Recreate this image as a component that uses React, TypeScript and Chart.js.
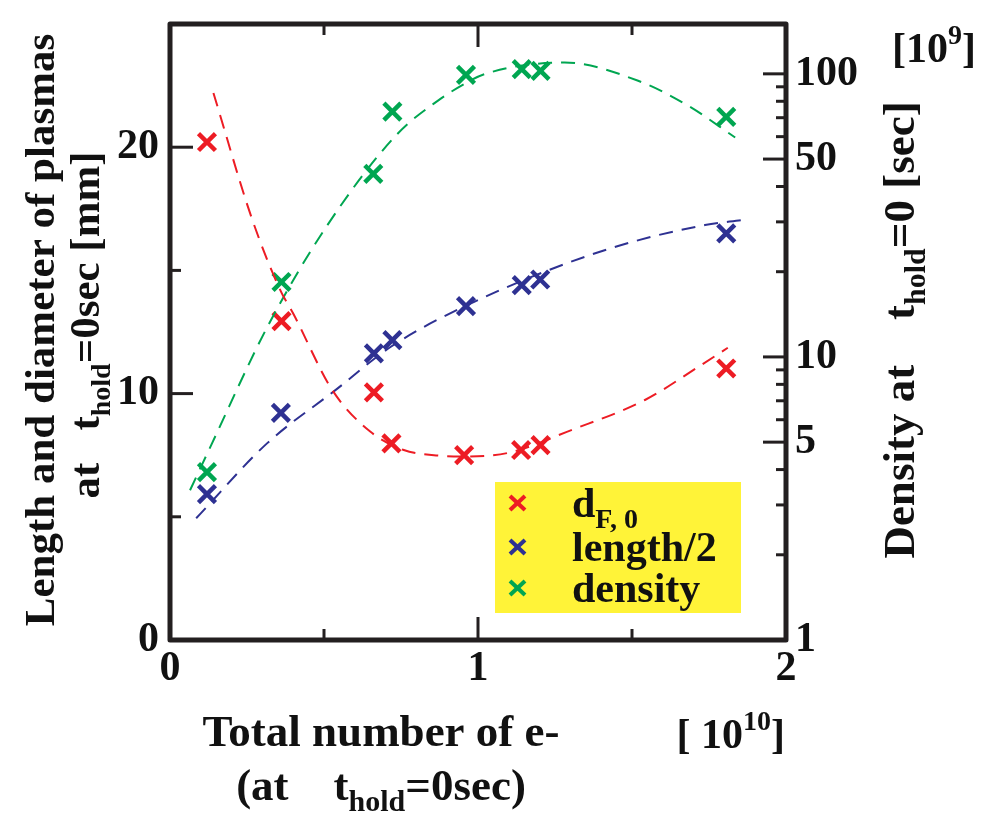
import React, { useEffect, useRef } from "react";
import { Chart, registerables } from "chart.js";
Chart.register(...registerables);

// ---- data (x in units of 1e10 electrons) ----
const redX = [0.12, 0.362, 0.662, 0.719, 0.955, 1.14, 1.203, 1.806];
const redY = [20.21, 12.94, 10.05, 7.98, 7.5, 7.71, 7.91, 11.02];
const blueX = [0.12, 0.36, 0.662, 0.722, 0.961, 1.142, 1.202, 1.806];
const blueY = [5.92, 9.22, 11.63, 12.17, 13.55, 14.4, 14.63, 16.5];
const greenX = [0.12, 0.362, 0.66, 0.722, 0.961, 1.142, 1.203, 1.806];
const greenY = [3.92, 18.4, 44.3, 73.5, 99.2, 103.9, 102.5, 70.5];

// dashed fit curves
const redFitX = [0.141, 0.266, 0.358, 0.4, 0.527, 0.651, 0.759, 0.857, 0.95, 1.1, 1.303, 1.542, 1.716, 1.811];
const redFitY = [22.2, 17.1, 14.2, 13.25, 10.14, 8.45, 7.71, 7.5, 7.45, 7.6, 8.52, 9.74, 11.09, 11.86];
const blueFitX = [0.085, 0.315, 0.537, 0.717, 0.977, 1.411, 1.737, 1.857];
const blueFitY = [4.94, 7.98, 10.14, 11.9, 13.66, 15.82, 16.84, 17.04];
const greenFitX = [0.065, 0.136, 0.315, 0.51, 0.738, 0.869, 0.955, 1.02, 1.281, 1.52, 1.683, 1.835];
const greenFitY = [3.38, 4.94, 12.7, 29.1, 61.3, 80.3, 92, 99.7, 109.6, 94.5, 77.1, 59.6];

// axes
const xTicks = [0, 1, 2];
const xMinor = [0.5, 1.5];
const yTicks = [0, 10, 20];
const yMinor = [5, 15];
const rightLabels = [1, 5, 10, 50, 100];
const rightLong = [5, 10, 50, 100];
const rightShort = [2, 3, 4, 6, 7, 8, 9, 20, 30, 40, 60, 70, 80, 90];

const RED = "#ED1C24";
const BLUE = "#2E3192";
const GREEN = "#00A651";
const INK = "#231F20";
const FONT = "'Liberation Serif', 'Times New Roman', serif";

const zip = (xs: number[], ys: number[]) => xs.map((x, i) => ({ x, y: ys[i] }));

type Part = { t: string; sub?: boolean; sup?: boolean };

function drawRich(ctx: CanvasRenderingContext2D, parts: Part[], x: number, y: number, size: number, align: "left" | "center" | "right") {
  const small = Math.round(size * 0.66);
  const widths = parts.map((p) => {
    ctx.font = `bold ${p.sub || p.sup ? small : size}px ${FONT}`;
    return ctx.measureText(p.t).width;
  });
  const total = widths.reduce((a, b) => a + b, 0);
  let cx = align === "left" ? x : align === "center" ? x - total / 2 : x - total;
  ctx.textAlign = "left";
  ctx.textBaseline = "alphabetic";
  parts.forEach((p, i) => {
    ctx.font = `bold ${p.sub || p.sup ? small : size}px ${FONT}`;
    const dy = p.sub ? size * 0.25 : p.sup ? -size * 0.42 : 0;
    ctx.fillText(p.t, cx, y + dy);
    cx += widths[i];
  });
}

const framePlugin = {
  id: "frame",
  afterDraw(chart: any) {
    const { ctx, chartArea: a, scales } = chart;
    const xs = scales.x, ys = scales.y, y2 = scales.y2;
    ctx.save();
    ctx.strokeStyle = INK;
    ctx.fillStyle = INK;
    ctx.lineCap = "butt";
    ctx.lineWidth = 3;
    const line = (x1: number, y1: number, x2: number, y2_: number) => {
      ctx.beginPath();
      ctx.moveTo(x1, y1);
      ctx.lineTo(x2, y2_);
      ctx.stroke();
    };
    [1].forEach((v) => {
      const px = xs.getPixelForValue(v);
      line(px, a.bottom, px, a.bottom - 23);
      line(px, a.top, px, a.top + 23);
    });
    xMinor.forEach((v) => {
      const px = xs.getPixelForValue(v);
      line(px, a.bottom, px, a.bottom - 11);
      line(px, a.top, px, a.top + 11);
    });
    [10, 20].forEach((v) => {
      const py = ys.getPixelForValue(v);
      line(a.left, py, a.left + 23, py);
    });
    yMinor.forEach((v) => {
      const py = ys.getPixelForValue(v);
      line(a.left, py, a.left + 11, py);
    });
    rightLong.forEach((v) => {
      const py = y2.getPixelForValue(v);
      line(a.right, py, a.right - 23, py);
    });
    rightShort.forEach((v) => {
      const py = y2.getPixelForValue(v);
      line(a.right, py, a.right - 10, py);
    });
    // frame
    ctx.lineWidth = 5;
    ctx.lineJoin = "round";
    ctx.strokeRect(a.left, a.top, a.right - a.left, a.bottom - a.top);

    // legend box
    ctx.fillStyle = "#FFF338";
    ctx.fillRect(495, 482, 246, 131);
    const items: [string, Part[]][] = [
      [RED, [{ t: "d" }, { t: "F, 0", sub: true }]],
      [BLUE, [{ t: "length/2" }]],
      [GREEN, [{ t: "density" }]],
    ];
    const rows = [503, 547, 588];
    items.forEach(([c, parts], i) => {
      const cy = rows[i];
      ctx.strokeStyle = c;
      ctx.lineWidth = 4;
      line(510, cy - 7, 525, cy + 7);
      line(510, cy + 7, 525, cy - 7);
      ctx.fillStyle = "#111";
      drawRich(ctx, parts, 572, cy + 14, 42, "left");
    });

    // titles
    ctx.fillStyle = "#111";
    drawRich(ctx, [{ t: "Total number of e-" }], 381, 746, 45, "center");
    drawRich(ctx, [{ t: "(at    t" }, { t: "hold", sub: true }, { t: "=0sec)" }], 381, 800, 45, "center");
    drawRich(ctx, [{ t: "[ 10" }, { t: "10", sup: true }, { t: "]" }], 785, 748, 42, "right");
    drawRich(ctx, [{ t: "[10" }, { t: "9", sup: true }, { t: "]" }], 976, 62, 42, "right");

    ctx.save();
    ctx.translate(54, 330);
    ctx.rotate(-Math.PI / 2);
    drawRich(ctx, [{ t: "Length and diameter of plasmas" }], 0, 0, 43, "center");
    ctx.restore();
    ctx.save();
    ctx.translate(99, 325);
    ctx.rotate(-Math.PI / 2);
    drawRich(ctx, [{ t: "at   t" }, { t: "hold", sub: true }, { t: "=0sec [mm]" }], 0, 0, 43, "center");
    ctx.restore();
    ctx.save();
    ctx.translate(914, 330);
    ctx.rotate(-Math.PI / 2);
    drawRich(ctx, [{ t: "Density at    t" }, { t: "hold", sub: true }, { t: "=0 [sec]" }], 0, 0, 45, "center");
    ctx.restore();
    ctx.restore();
  },
};

export default function App() {
  const ref = useRef<HTMLCanvasElement | null>(null);
  useEffect(() => {
    if (!ref.current) return;
    const pts = (c: string, data: any, axis: string) => ({
      data,
      yAxisID: axis,
      showLine: false,
      pointStyle: "crossRot",
      pointRadius: 12,
      pointHoverRadius: 12,
      pointBorderWidth: 4.5,
      borderColor: c,
      backgroundColor: c,
    });
    const fit = (c: string, data: any, axis: string) => ({
      data,
      yAxisID: axis,
      showLine: true,
      pointRadius: 0,
      borderColor: c,
      borderWidth: 2,
      borderDash: [14, 9],
      cubicInterpolationMode: "monotone",
      fill: false,
    });
    const tickFont = { family: FONT, size: 42, weight: "bold" as const };
    const noPadV = (s: any, w: number) => { s.width = w; s.paddingTop = 0; s.paddingBottom = 0; };
    const chart = new Chart(ref.current, {
      type: "scatter",
      data: {
        datasets: [
          fit(RED, zip(redFitX, redFitY), "y"),
          fit(BLUE, zip(blueFitX, blueFitY), "y"),
          fit(GREEN, zip(greenFitX, greenFitY), "y2"),
          pts(RED, zip(redX, redY), "y"),
          pts(BLUE, zip(blueX, blueY), "y"),
          pts(GREEN, zip(greenX, greenY), "y2"),
        ] as any,
      },
      options: {
        animation: false,
        responsive: false,
        maintainAspectRatio: false,
        layout: { padding: { top: 24, left: 0, right: 0, bottom: 0 } },
        plugins: { legend: { display: false }, tooltip: { enabled: false } },
        scales: {
          x: {
            type: "linear",
            min: 0,
            max: 2,
            grid: { display: false, drawTicks: false },
            border: { display: false },
            ticks: { font: tickFont, color: "#111", padding: 4 },
            afterBuildTicks: (s: any) => { s.ticks = xTicks.map((v) => ({ value: v })); },
            afterFit: (s: any) => { s.height = 174; s.paddingLeft = 0; s.paddingRight = 0; },
          },
          y: {
            type: "linear",
            position: "left",
            min: 0,
            max: 25,
            grid: { display: false, drawTicks: false },
            border: { display: false },
            ticks: { font: tickFont, color: "#111", padding: 11 },
            afterBuildTicks: (s: any) => { s.ticks = yTicks.map((v) => ({ value: v })); },
            afterFit: (s: any) => noPadV(s, 170),
          },
          y2: {
            type: "logarithmic",
            position: "right",
            min: 1,
            max: 150,
            grid: { display: false, drawTicks: false },
            border: { display: false },
            ticks: { font: tickFont, color: "#111", padding: 9, callback: (v: any) => String(v) },
            afterBuildTicks: (s: any) => { s.ticks = rightLabels.map((v) => ({ value: v })); },
            afterFit: (s: any) => noPadV(s, 201),
          },
        },
      } as any,
      plugins: [framePlugin],
    });
    return () => chart.destroy();
  }, []);
  return (
    <div style={{ position: "absolute", left: 0, top: 0, width: 987, height: 814, background: "#fff" }}>
      <canvas ref={ref} width={987} height={814} style={{ width: 987, height: 814, display: "block" }} />
    </div>
  );
}
